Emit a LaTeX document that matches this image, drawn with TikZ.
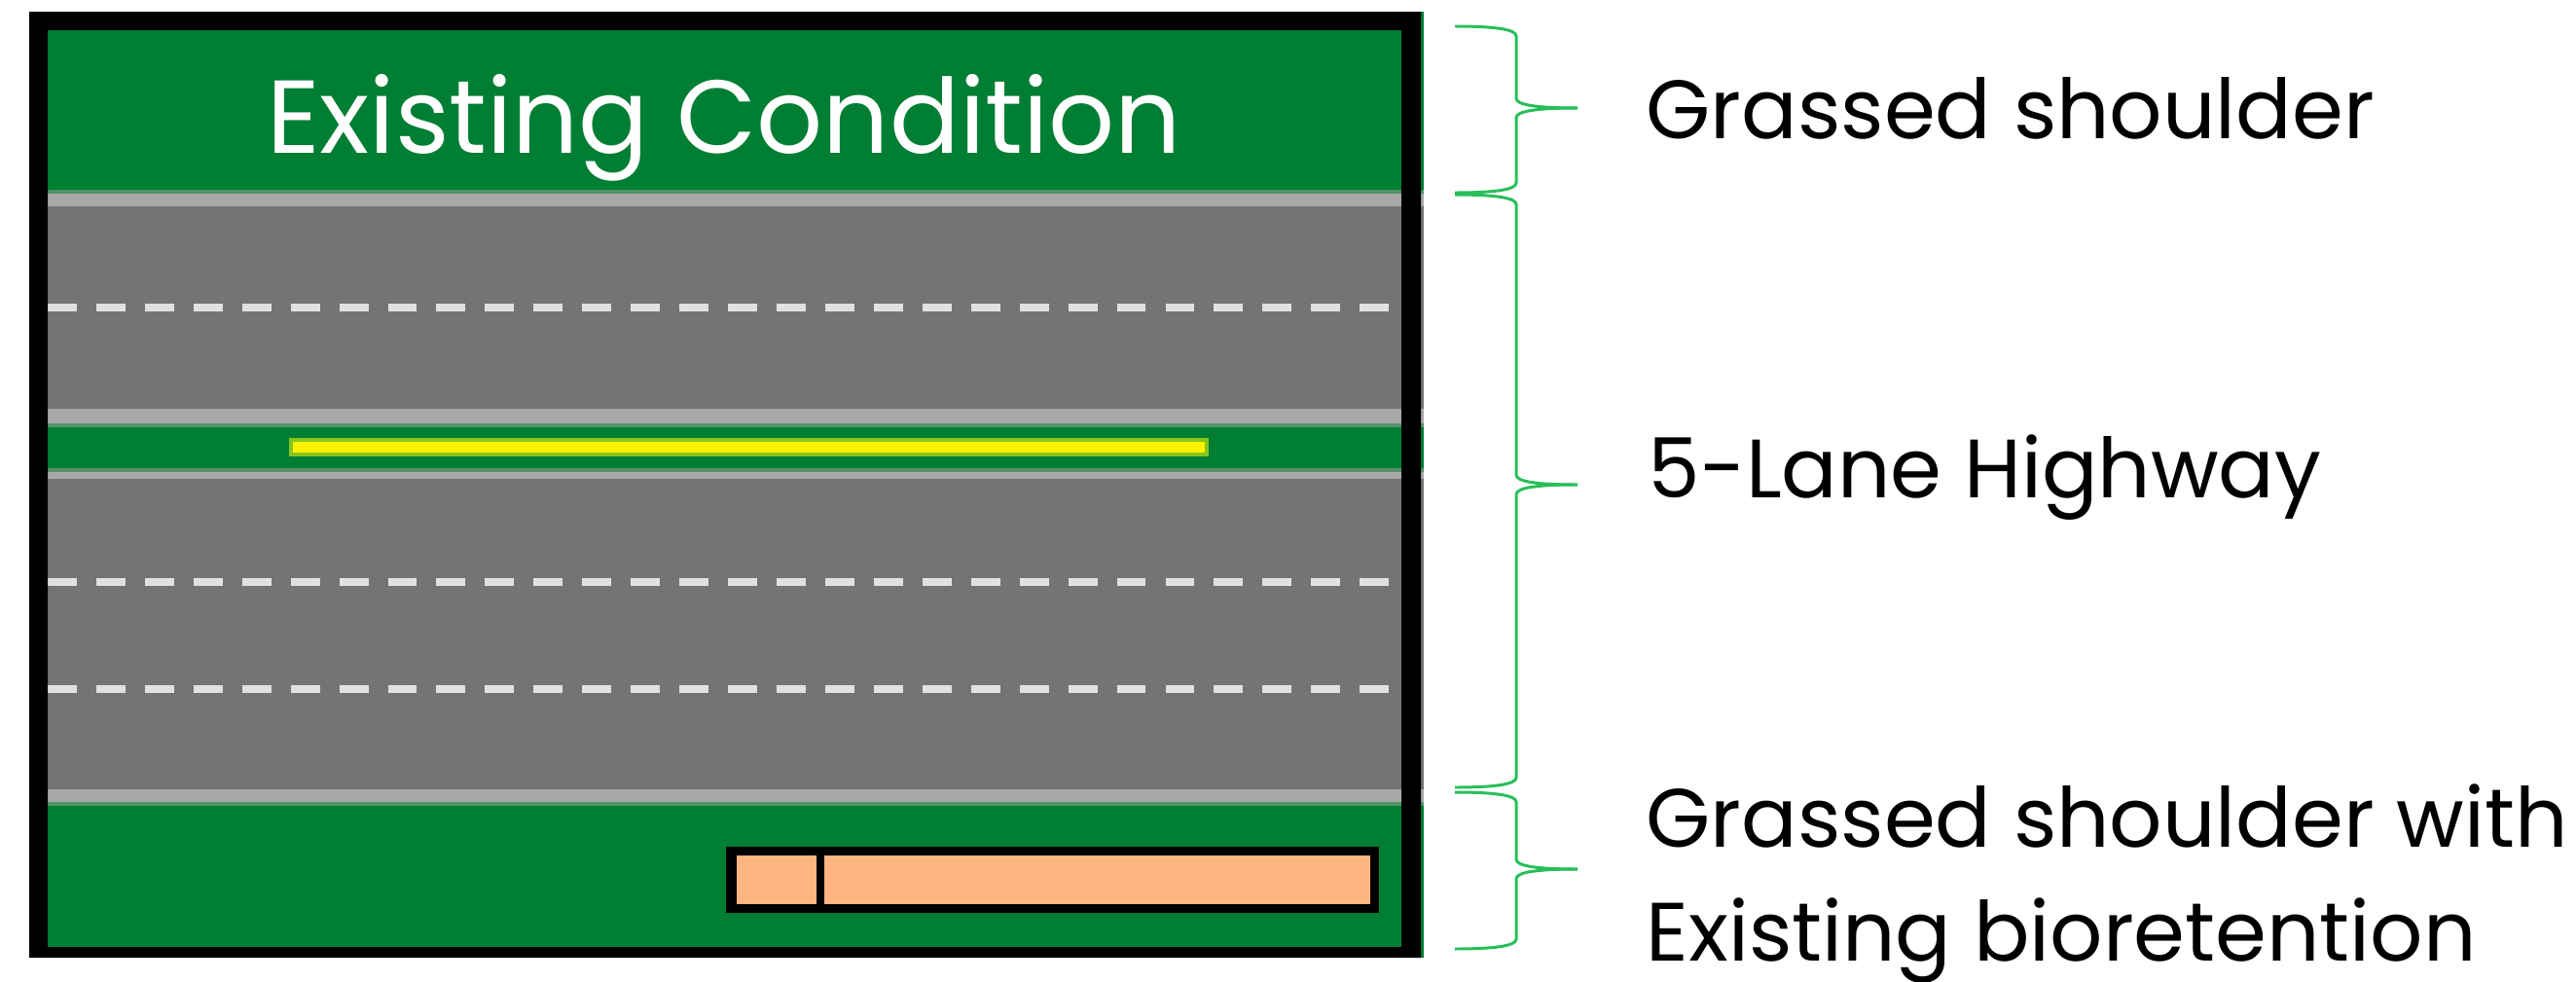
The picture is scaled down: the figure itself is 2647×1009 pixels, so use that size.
\documentclass[tikz,border=0pt]{standalone}
\usepackage{fontspec}
\newfontfamily\pop{Poppins}
\definecolor{grass}{RGB}{0,126,52}
\definecolor{road}{RGB}{116,116,116}
\definecolor{stripe}{RGB}{168,168,168}
\definecolor{peach}{RGB}{255,181,128}
\definecolor{bracegreen}{RGB}{40,190,90}
\definecolor{yellowedge}{RGB}{136,196,30}
\definecolor{dashcol}{RGB}{225,225,225}
\definecolor{greenblend}{RGB}{84,146,104}
\tikzset{
  lbl/.style={font=\pop\fontsize{24.2}{29}\selectfont, inner sep=0pt, text=black},
  titlelbl/.style={font=\pop\fontsize{30.3}{36}\selectfont, inner sep=0pt, text=white},
  lanedash/.style={draw=dashcol, line width=2pt, dash pattern=on 8.5pt off 5.7pt},
  bracestyle/.style={draw=bracegreen, line width=0.85pt},
}
\newcommand{\mybrace}[3]{%
  \draw[bracestyle] (1495,#1) .. controls (1535,#1) and (1558,#1+3) .. (1558,#1+10)
    -- (1558,#2-10) .. controls (1558,#2-3) and (1580,#2) .. (1621,#2);
  \draw[bracestyle] (1621,#2) .. controls (1580,#2) and (1558,#2+3) .. (1558,#2+10)
    -- (1558,#3-10) .. controls (1558,#3-3) and (1535,#3) .. (1495,#3);
}
\begin{document}
\begin{tikzpicture}[x=0.01cm,y=-0.01cm]
\useasboundingbox (0,0) rectangle (2647,1009);
% rows of the cross-section
\fill[grass]  (49,12)  rectangle (1463,197);
\fill[stripe] (49,197) rectangle (1463,212);
\fill[road]   (49,212) rectangle (1463,420);
\fill[stripe] (49,420) rectangle (1463,436);
\fill[grass]  (49,436) rectangle (1463,482);
\fill[stripe] (49,482) rectangle (1463,492);
\fill[road]   (49,492) rectangle (1463,811);
\fill[stripe] (49,811) rectangle (1463,825);
\fill[grass]  (49,825) rectangle (1463,984);
% soft edges between grass and stripes
\fill[greenblend] (49,195) rectangle (1463,199);
\fill[greenblend] (49,435) rectangle (1463,439);
\fill[greenblend] (49,481) rectangle (1463,485);
\fill[greenblend] (49,824) rectangle (1463,828);
% lane dashes
\coordinate (d1a) at (49,316);  \coordinate (d1b) at (1440,316);
\coordinate (d2a) at (49,598);  \coordinate (d2b) at (1440,598);
\coordinate (d3a) at (49,708);  \coordinate (d3b) at (1440,708);
\draw[lanedash] (d1a) -- (d1b);
\draw[lanedash] (d2a) -- (d2b);
\draw[lanedash] (d3a) -- (d3b);
% median yellow line
\filldraw[fill=yellow, draw=yellowedge, line width=1.14pt] (299,452) rectangle (1240,467);
% bioretention
\fill[black] (746,870) rectangle (1417,938);
\fill[peach] (757,879) rectangle (839,929);
\fill[peach] (847,879) rectangle (1408,929);
% frame
\fill[black, even odd rule] (30,12) rectangle (1460,984) (49,31) rectangle (1440,973);
% title
\node[titlelbl, anchor=base] (ttl) at (744,157) {Existing Condition};
% braces
\mybrace{27}{111}{198}
\mybrace{200}{498}{809}
\mybrace{814}{893}{975}
% labels
\node[lbl, anchor=base west] (gs)  at (1691,142) {Grassed shoulder};
\node[lbl, anchor=base west] (hw)  at (1693,511) {5-Lane Highway};
\node[lbl, anchor=base west] (gs2) at (1691,870) {Grassed shoulder with};
\node[lbl, anchor=base west] (bio) at (1691,987) {Existing bioretention};
\end{tikzpicture}
\end{document}
